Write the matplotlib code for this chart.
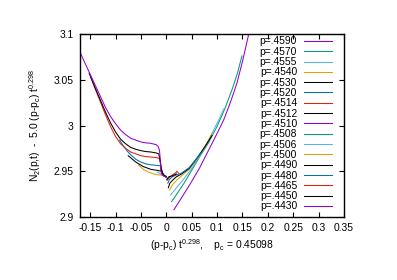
import matplotlib
matplotlib.use("Agg")
import matplotlib.pyplot as plt

plt.rcParams['font.family'] = ['Liberation Sans', 'DejaVu Sans']
plt.rcParams['mathtext.fontset'] = 'custom'
plt.rcParams['mathtext.rm'] = 'Liberation Sans'
plt.rcParams['mathtext.it'] = 'Liberation Sans'
plt.rcParams['mathtext.default'] = 'regular'

# ---- data ----
labels = ["p=.4590", "p=.4570", "p=.4555", "p=.4540", "p=.4530", "p=.4520",
          "p=.4514", "p=.4512", "p=.4510", "p=.4508", "p=.4506", "p=.4500",
          "p=.4490", "p=.4480", "p=.4465", "p=.4450", "p=.4430"]

x_4590 = [0.015, 0.030, 0.048, 0.065, 0.0805, 0.097, 0.113, 0.126, 0.139, 0.150, 0.162, 0.166]
y_4590 = [2.908, 2.921, 2.937, 2.953, 2.970, 2.988, 3.006, 3.025, 3.046, 3.070, 3.099, 3.108]

x_4570 = [0.0104, 0.020, 0.035, 0.050, 0.067, 0.083, 0.100, 0.115, 0.130, 0.140, 0.149]
y_4570 = [2.9168, 2.9245, 2.937, 2.951, 2.967, 2.981, 2.999, 3.018, 3.040, 3.057, 3.076]

x_4555 = [0.0085, 0.020, 0.035, 0.050, 0.065, 0.080, 0.095, 0.105, 0.113]
y_4555 = [2.924, 2.932, 2.942, 2.953, 2.966, 2.980, 2.997, 3.008, 3.018]

x_4540 = [0.0065, 0.012, 0.020, 0.030, 0.045, 0.060, 0.075, 0.090]
y_4540 = [2.9295, 2.935, 2.940, 2.945, 2.952, 2.963, 2.976, 2.991]

x_4530 = [0.004, 0.007, 0.012, 0.020, 0.030, 0.045, 0.060, 0.075, 0.090]
y_4530 = [2.932, 2.937, 2.940, 2.944, 2.947, 2.953, 2.964, 2.976, 2.989]

x_4520 = [0.003, 0.006, 0.012, 0.020, 0.030, 0.045, 0.060, 0.070]
y_4520 = [2.937, 2.941, 2.944, 2.946, 2.948, 2.954, 2.964, 2.971]

x_4514 = [0.0015, 0.006, 0.012, 0.018, 0.021, 0.024]
y_4514 = [2.940, 2.943, 2.946, 2.948, 2.950, 2.948]

x_4512 = [0.001, 0.005, 0.012, 0.020]
y_4512 = [2.941, 2.944, 2.945, 2.947]

x_4510 = [-0.001, 0.0, 0.001]
y_4510 = [2.945, 2.944, 2.943]

x_4508 = [-0.010, -0.005, 0.0]
y_4508 = [2.946, 2.945, 2.944]

x_4506 = [-0.018, -0.010, -0.004, 0.0]
y_4506 = [2.949, 2.947, 2.945, 2.944]

x_4500 = [-0.055, -0.045, -0.035, -0.025, -0.015, -0.008, -0.004, -0.001]
y_4500 = [2.957, 2.952, 2.949, 2.947, 2.946, 2.946, 2.945, 2.944]

x_4490 = [-0.075, -0.060, -0.045, -0.030, -0.018, -0.010, -0.007, -0.005, -0.002]
y_4490 = [2.967, 2.960, 2.955, 2.952, 2.951, 2.950, 2.948, 2.946, 2.944]

x_4480 = [-0.092, -0.085, -0.077, -0.070, -0.060, -0.050, -0.040, -0.030, -0.020, -0.012,
          -0.009, -0.007, -0.004, -0.001]
y_4480 = [2.984, 2.978, 2.972, 2.968, 2.963, 2.960, 2.958, 2.957, 2.9565, 2.956,
          2.952, 2.948, 2.945, 2.944]

x_4465 = [-0.149, -0.140, -0.130, -0.120, -0.110, -0.100, -0.090, -0.080, -0.070, -0.060,
          -0.050, -0.040, -0.030, -0.020, -0.014, -0.011, -0.009, -0.006, -0.002]
y_4465 = [3.053, 3.040, 3.026, 3.012, 2.999, 2.988, 2.980, 2.975, 2.971, 2.969,
          2.967, 2.966, 2.9655, 2.965, 2.964, 2.958, 2.950, 2.946, 2.944]

x_4450 = [-0.152, -0.140, -0.130, -0.120, -0.110, -0.100, -0.090, -0.080, -0.070, -0.060,
          -0.050, -0.040, -0.030, -0.020, -0.015, -0.012, -0.010, -0.007, -0.003, 0.0]
y_4450 = [3.057, 3.041, 3.028, 3.015, 3.003, 2.993, 2.985, 2.980, 2.976, 2.974,
          2.9725, 2.9715, 2.971, 2.970, 2.969, 2.962, 2.952, 2.947, 2.945, 2.944]

x_4430 = [-0.170, -0.160, -0.150, -0.140, -0.130, -0.120, -0.110, -0.100, -0.090, -0.080,
          -0.070, -0.060, -0.050, -0.040, -0.030, -0.020, -0.016, -0.0135, -0.012, -0.011,
          -0.009, -0.006, -0.002]
y_4430 = [3.080, 3.068, 3.056, 3.044, 3.032, 3.020, 3.010, 3.002, 2.995, 2.990,
          2.986, 2.984, 2.982, 2.981, 2.9805, 2.979, 2.977, 2.973, 2.964, 2.951,
          2.947, 2.945, 2.944]

xs = [x_4590, x_4570, x_4555, x_4540, x_4530, x_4520, x_4514, x_4512, x_4510,
      x_4508, x_4506, x_4500, x_4490, x_4480, x_4465, x_4450, x_4430]
ys = [y_4590, y_4570, y_4555, y_4540, y_4530, y_4520, y_4514, y_4512, y_4510,
      y_4508, y_4506, y_4500, y_4490, y_4480, y_4465, y_4450, y_4430]

xticks = [-0.15, -0.1, -0.05, 0, 0.05, 0.1, 0.15, 0.2, 0.25, 0.3, 0.35]
xtick_labels = ["-0.15", "-0.1", "-0.05", "0", "0.05", "0.1", "0.15", "0.2", "0.25", "0.3", "0.35"]
yticks = [2.9, 2.95, 3.0, 3.05, 3.1]
ytick_labels = ["2.9", "2.95", "3", "3.05", "3.1"]

palette = ['#9400d3', '#009e73', '#56b4e9', '#e69f00', '#000000', '#0072b2', '#e51e10', '#000000']

# ---- figure ----
W, H = 397, 280
fig = plt.figure(figsize=(W / 100, H / 100), dpi=100)
ax = fig.add_axes([80 / W, 1 - 217 / H, (344 - 80) / W, (217 - 34) / H])

for i, (lab, xv, yv) in enumerate(zip(labels, xs, ys)):
    ax.plot(xv, yv, color=palette[i % len(palette)], lw=0.75, label=lab,
            solid_joinstyle='round')

ax.set_xlim(-0.17, 0.35)
ax.set_ylim(2.9, 3.1)
ax.set_xticks(xticks)
ax.set_xticklabels(xtick_labels)
ax.set_yticks(yticks)
ax.set_yticklabels(ytick_labels)
ax.tick_params(direction='in', top=True, right=True, length=3.5, width=0.8,
               labelsize=7.4, pad=4.5, colors='black')
for s in ax.spines.values():
    s.set_linewidth(1.0)

ax.set_ylabel(r"N$_2$(p,t)  -  5.0 (p-p$_c$) t$^{0.298}$", fontsize=7.4, labelpad=8)
ax.set_xlabel(r"(p-p$_c$) t$^{0.298}$,    p$_c$ = 0.45098", fontsize=7.4, labelpad=3)

leg = ax.legend(loc='upper right', bbox_to_anchor=(332 / W, 1 - 36.5 / H),
                bbox_transform=fig.transFigure, frameon=False, fontsize=7.4,
                markerfirst=False, handlelength=2.7, handletextpad=0.7,
                labelspacing=0.03, borderpad=0, borderaxespad=0)

fig.savefig("out.png", dpi=100)
